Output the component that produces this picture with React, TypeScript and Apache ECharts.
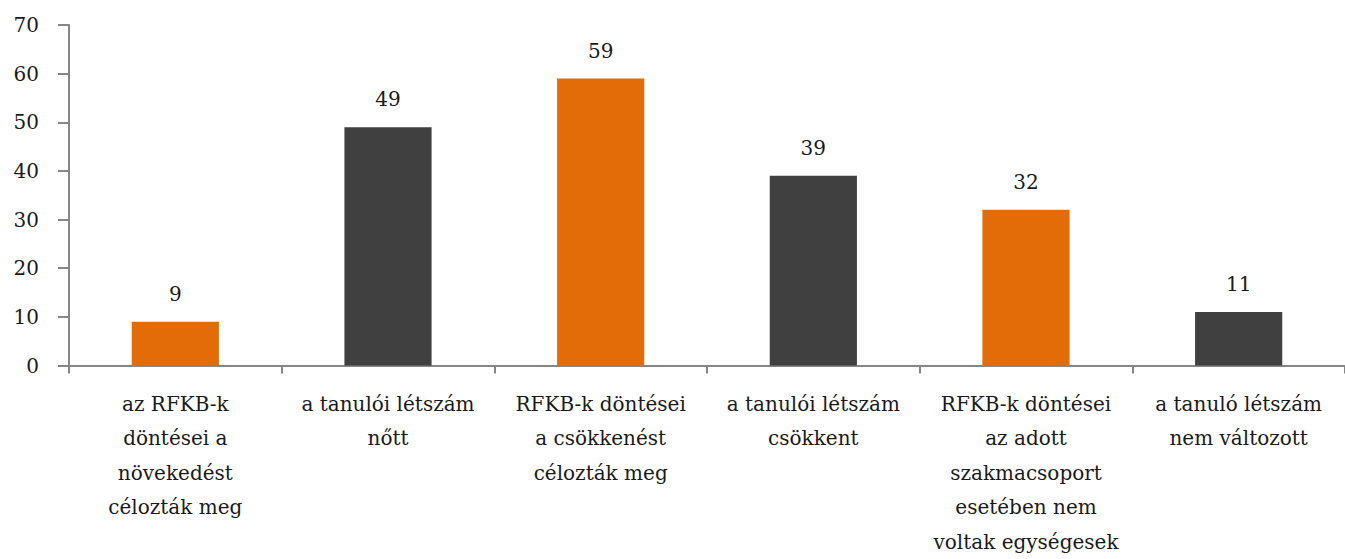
import React, { useEffect, useRef } from "react";
import * as echarts from "echarts";

const categories = [
  "az RFKB-k\ndöntései a\nnövekedést\ncélozták meg",
  "a tanulói létszám\nnőtt",
  "RFKB-k döntései\na csökkenést\ncélozták meg",
  "a tanulói létszám\ncsökkent",
  "RFKB-k döntései\naz adott\nszakmacsoport\nesetében nem\nvoltak egységesek",
  "a tanuló létszám\nnem változott",
];
const values = [9, 49, 59, 39, 32, 11];
const barColors = ["#E36C09", "#404040", "#E36C09", "#404040", "#E36C09", "#404040"];

const FONT = "DejaVu Serif";

export default function App() {
  const ref = useRef<HTMLDivElement>(null);
  useEffect(() => {
    if (!ref.current) return;
    const chart = echarts.init(ref.current, null, { renderer: "svg" });
    chart.setOption({
      animation: false,
      backgroundColor: "#ffffff",
      grid: { left: 69, right: -14, top: 25, bottom: 193, containLabel: false },
      xAxis: {
        type: "category",
        data: categories,
        axisLine: { lineStyle: { color: "#868686", width: 2 } },
        axisTick: { show: true, length: 8, lineStyle: { color: "#868686", width: 2 } },
        axisLabel: {
          interval: 0,
          margin: 21,
          color: "#1a1a1a",
          fontFamily: FONT,
          fontSize: 20,
          lineHeight: 34.5,
          align: "center",
        },
      },
      yAxis: {
        type: "value",
        min: 0,
        max: 70,
        interval: 10,
        axisLine: { show: true, lineStyle: { color: "#868686", width: 2 } },
        axisTick: { show: true, length: 11, lineStyle: { color: "#868686", width: 2 } },
        splitLine: { show: false },
        axisLabel: {
          margin: 30,
          color: "#1a1a1a",
          fontFamily: FONT,
          fontSize: 20,
        },
      },
      series: [
        {
          type: "bar",
          data: values.map((v, i) => ({ value: v, itemStyle: { color: barColors[i] } })),
          barWidth: "41%",
          label: {
            show: true,
            position: "top",
            distance: 18,
            color: "#1a1a1a",
            fontFamily: FONT,
            fontSize: 20,
          },
        },
      ],
    });
    return () => chart.dispose();
  }, []);
  return (
    <div
      ref={ref}
      style={{ position: "fixed", left: 0, top: 0, width: 1345, height: 559 }}
    />
  );
}
